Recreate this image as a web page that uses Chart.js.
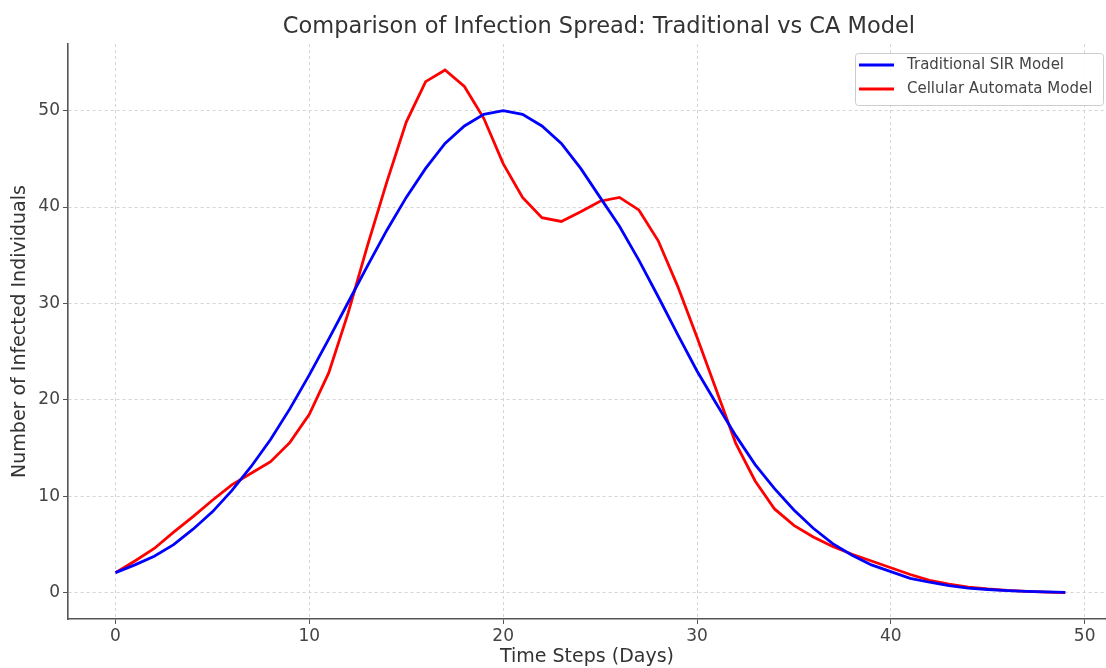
<!DOCTYPE html>
<html lang="en">
<head>
  <meta charset="UTF-8">
  <title>Comparison of Infection Spread</title>
  <script src="https://cdn.jsdelivr.net/npm/chart.js"></script>
  <style>
    body { margin: 0; background: #fff; }
    #wrap { width: 1106px; height: 668px; }
  </style>
</head>
<body>
  <div id="wrap"><canvas id="spreadChart" width="1106" height="668"></canvas></div>

  <script>
    // days 0..49
    const days = [0,1,2,3,4,5,6,7,8,9,10,11,12,13,14,15,16,17,18,19,20,21,22,23,24,
                  25,26,27,28,29,30,31,32,33,34,35,36,37,38,39,40,41,42,43,44,45,46,47,48,49];

    const sirValues = [2.1,2.9,3.8,5.0,6.6,8.4,10.6,13.1,15.9,19.1,22.6,26.3,30.1,33.9,37.6,41.0,44.0,46.6,48.4,49.6,
                       50.0,49.6,48.4,46.6,44.0,41.0,38.0,34.5,30.7,26.8,23.0,19.6,16.3,13.3,10.8,8.6,6.7,5.1,3.9,2.9,
                       2.2,1.5,1.1,0.75,0.5,0.35,0.23,0.15,0.1,0.06];

    const caValues = [2.1,3.3,4.6,6.3,7.9,9.6,11.2,12.4,13.6,15.6,18.5,22.8,29.0,36.0,42.6,48.8,53.0,54.2,52.5,49.2,
                      44.5,41.0,38.9,38.5,39.5,40.6,41.0,39.7,36.5,31.8,26.5,21.0,15.5,11.6,8.7,7.0,5.8,4.8,4.0,3.3,
                      2.6,1.9,1.3,0.9,0.6,0.4,0.25,0.15,0.08,0.03];

    const xTicks = [0, 10, 20, 30, 40, 50];
    const yTicks = [0, 10, 20, 30, 40, 50];

    const seriesNames = ['Traditional SIR Model', 'Cellular Automata Model'];
    const seriesColors = ['#0000ff', '#ff0000'];
    const chartTitle = 'Comparison of Infection Spread: Traditional vs CA Model';

    const fontFamily = "'DejaVu Sans', 'Liberation Sans', sans-serif";

    // title over the axes and legend inside the plot (upper right), like matplotlib
    const decorations = {
      id: 'decorations',
      afterDraw(chart) {
        const ctx = chart.ctx;
        ctx.save();
        ctx.font = '22.5px ' + fontFamily;
        ctx.fillStyle = '#333';
        ctx.textAlign = 'center';
        ctx.textBaseline = 'middle';
        ctx.fillText(chartTitle, 599, 27);

        const x0 = 855, y0 = 53, w = 248, h = 52;
        ctx.fillStyle = 'rgba(255,255,255,0.85)';
        ctx.strokeStyle = '#cccccc';
        ctx.lineWidth = 1;
        ctx.beginPath();
        ctx.roundRect(x0 + 0.5, y0 + 0.5, w, h, 3);
        ctx.fill();
        ctx.stroke();
        ctx.font = '15px ' + fontFamily;
        ctx.textAlign = 'left';
        chart.data.datasets.forEach((ds, i) => {
          const y = y0 + 12 + i * 24;
          ctx.strokeStyle = ds.borderColor;
          ctx.lineWidth = 2.8;
          ctx.beginPath();
          ctx.moveTo(x0 + 4, y);
          ctx.lineTo(x0 + 39, y);
          ctx.stroke();
          ctx.fillStyle = '#444';
          ctx.fillText(ds.label, x0 + 52, y);
        });
        ctx.restore();
      }
    };

    function makeDataset(i, values) {
      return {
        label: seriesNames[i],
        data: days.map((d, k) => ({ x: d, y: values[k] })),
        borderColor: seriesColors[i],
        backgroundColor: seriesColors[i],
        borderWidth: 2.8,
        pointRadius: 0,
        tension: 0,
        fill: false
      };
    }

    const gridStyle = {
      color: '#d4d4d4',
      tickColor: '#555',
      tickLength: 5,
      tickBorderDash: [],
      tickWidth: 1
    };
    // in Chart.js v4 border.dash dashes the grid lines, not the axis line
    const borderStyle = { display: true, color: '#555', width: 1.6, dash: [3, 3] };

    const ctx = document.getElementById('spreadChart').getContext('2d');
    new Chart(ctx, {
      type: 'line',
      data: {
        datasets: [makeDataset(0, sirValues), makeDataset(1, caValues)]
      },
      options: {
        responsive: false,
        animation: false,
        layout: { padding: { top: 44 } },
        plugins: {
          legend: { display: false },
          tooltip: { enabled: false },
          title: { display: false }
        },
        scales: {
          x: {
            type: 'linear',
            min: -2.45,
            max: 51.1,
            afterBuildTicks: (scale) => { scale.ticks = xTicks.map(v => ({ value: v })); },
            afterFit: (scale) => { scale.height = 49; },
            grid: gridStyle,
            border: borderStyle,
            ticks: {
              color: '#444',
              padding: 2,
              font: { family: fontFamily, size: 17 }
            },
            title: {
              display: true,
              text: 'Time Steps (Days)',
              color: '#333',
              font: { family: fontFamily, size: 19 },
              padding: { top: 0, bottom: 0 }
            }
          },
          y: {
            min: -2.71,
            max: 56.9,
            afterBuildTicks: (scale) => { scale.ticks = yTicks.map(v => ({ value: v })); },
            afterFit: (scale) => { scale.width = 68; },
            grid: gridStyle,
            border: borderStyle,
            ticks: {
              color: '#444',
              padding: 3,
              font: { family: fontFamily, size: 17 }
            },
            title: {
              display: true,
              text: 'Number of Infected Individuals',
              color: '#333',
              font: { family: fontFamily, size: 19 },
              padding: { top: 9, bottom: 0 }
            }
          }
        }
      },
      plugins: [decorations]
    });
  </script>
</body>
</html>
